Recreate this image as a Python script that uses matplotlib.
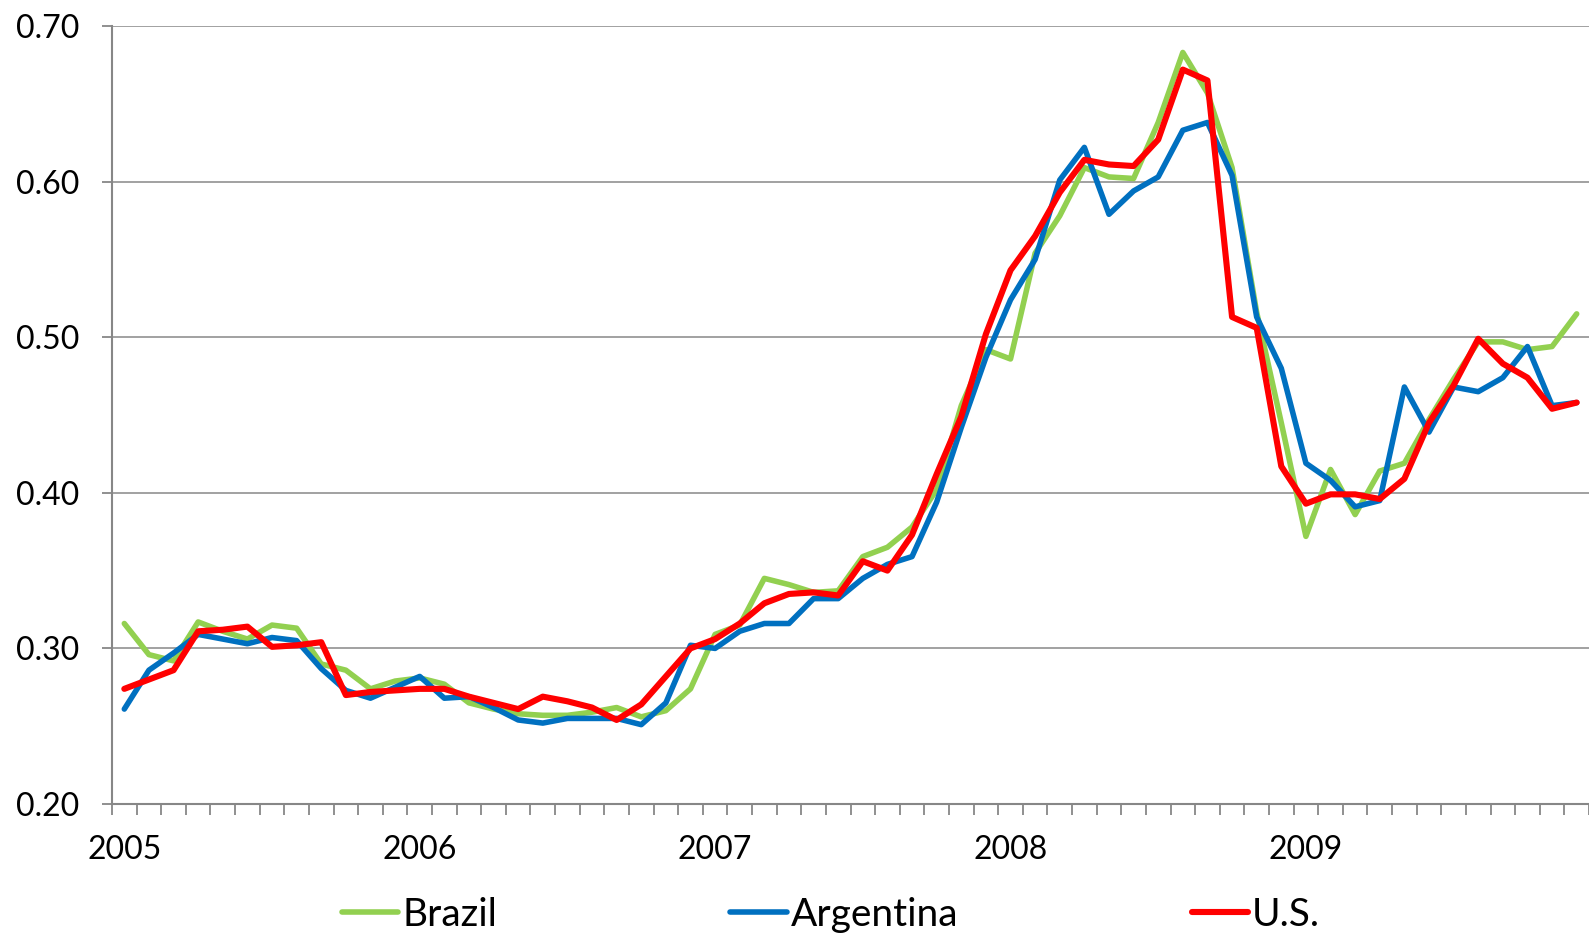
import numpy as np
import matplotlib.pyplot as plt

plt.rcParams['font.family'] = ['Lato', 'DejaVu Sans']

# Monthly data, Jan 2005 - Dec 2009
years = ['2005', '2006', '2007', '2008', '2009']

brazil = [0.316, 0.296, 0.292, 0.317, 0.311, 0.306, 0.315, 0.313, 0.290, 0.286, 0.274, 0.279,
          0.281, 0.277, 0.265, 0.261, 0.258, 0.257, 0.257, 0.259, 0.262, 0.256, 0.260, 0.274,
          0.309, 0.315, 0.345, 0.341, 0.336, 0.337, 0.359, 0.365, 0.378, 0.402, 0.456, 0.492,
          0.486, 0.554, 0.578, 0.609, 0.603, 0.602, 0.638, 0.683, 0.657, 0.609, 0.516, 0.445,
          0.372, 0.415, 0.386, 0.414, 0.419, 0.447, 0.473, 0.497, 0.497, 0.492, 0.494, 0.515]

argentina = [0.261, 0.286, 0.297, 0.309, 0.306, 0.303, 0.307, 0.305, 0.287, 0.273, 0.268, 0.275,
             0.282, 0.268, 0.269, 0.262, 0.254, 0.252, 0.255, 0.255, 0.255, 0.251, 0.265, 0.302,
             0.300, 0.311, 0.316, 0.316, 0.332, 0.332, 0.345, 0.354, 0.359, 0.394, 0.442, 0.487,
             0.524, 0.550, 0.601, 0.622, 0.579, 0.594, 0.603, 0.633, 0.638, 0.604, 0.513, 0.480,
             0.419, 0.408, 0.391, 0.395, 0.468, 0.439, 0.468, 0.465, 0.474, 0.494, 0.456, 0.458]

us = [0.274, 0.280, 0.286, 0.311, 0.312, 0.314, 0.301, 0.302, 0.304, 0.270, 0.272, 0.273,
      0.274, 0.274, 0.269, 0.265, 0.261, 0.269, 0.266, 0.262, 0.254, 0.264, 0.282, 0.300,
      0.306, 0.316, 0.329, 0.335, 0.336, 0.334, 0.356, 0.350, 0.373, 0.412, 0.449, 0.502,
      0.543, 0.565, 0.593, 0.614, 0.611, 0.610, 0.627, 0.672, 0.665, 0.513, 0.506, 0.417,
      0.393, 0.399, 0.399, 0.396, 0.409, 0.445, 0.469, 0.499, 0.483, 0.474, 0.454, 0.458]

x = np.arange(len(brazil))
grey = '#878787'

fig = plt.figure(figsize=(15.89, 9.35), dpi=100)
ax = fig.add_axes([112/1589, 1 - 804/935, 1 - 112/1589, (804 - 26)/935])

ax.plot(x, brazil, color='#92D050', lw=4.0, label='Brazil', solid_capstyle='round')
ax.plot(x, argentina, color='#0070C0', lw=4.0, label='Argentina', solid_capstyle='round')
ax.plot(x, us, color='#FF0000', lw=4.4, label='U.S.', solid_capstyle='round')

ax.set_xlim(-0.5, len(x) - 0.5)
ax.set_ylim(0.2, 0.7)

# y axis
ax.set_yticks(np.arange(0.2, 0.71, 0.1))
ax.set_yticklabels([f'{v:.2f}' for v in np.arange(0.2, 0.71, 0.1)])
ax.tick_params(axis='y', length=7.5, width=1.3, color=grey, pad=16, labelsize=23)
ax.yaxis.grid(True, color=grey, lw=1.1)
ax.set_axisbelow(True)

# x axis: year labels on January, small ticks between months
ax.set_xticks(np.arange(0, len(x), 12))
ax.set_xticklabels(years)
ax.set_xticks(np.arange(-0.5, len(x), 1), minor=True)
ax.tick_params(axis='x', which='major', length=0, pad=22, labelsize=23)
ax.tick_params(axis='x', which='minor', length=8, width=1.3, color=grey)

for s in ['top', 'right']:
    ax.spines[s].set_visible(False)
for s in ['left', 'bottom']:
    ax.spines[s].set_color(grey)
    ax.spines[s].set_linewidth(1.5)

fig.legend(loc='center left', bbox_to_anchor=(342/1589, 1 - 915/935), ncol=3,
           frameon=False, fontsize=28, handlelength=1.45, handletextpad=0.1,
           columnspacing=6.0, borderpad=0, borderaxespad=0)

fig.savefig('out.png', dpi=100)
